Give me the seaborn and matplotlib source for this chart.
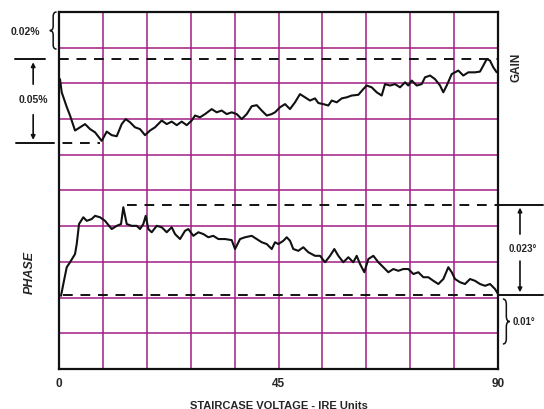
import numpy as np
import matplotlib
matplotlib.use('Agg')
import matplotlib.pyplot as plt
from matplotlib.path import Path
from matplotlib.patches import PathPatch
import seaborn as sns

# Traça de GAIN (x en unitats IRE, y en divisions de la retícula)
gain_x = [0.2, 0.55, 1.58, 2.26, 3.28, 4.31, 5.33, 6.36, 7.38, 8.75, 9.78, 10.8,
          11.83, 12.85, 13.67, 14.56, 15.58, 16.6, 17.63, 18.66, 19.68, 21.05,
          22.08, 23.1, 24.13, 25.15, 26.18, 27.2, 27.88, 28.9, 29.93, 31.3, 32.33,
          33.35, 34.38, 35.4, 36.43, 37.45, 38.48, 39.5, 40.53, 41.55, 42.58, 43.6,
          44.28, 45.3, 46.33, 47.35, 48.38, 49.4, 50.43, 51.45, 52.48, 53.16, 54.18,
          55.21, 55.91, 56.93, 57.96, 58.98, 60.0, 61.36, 62.38, 63.08, 64.1, 65.13,
          66.15, 66.83, 67.86, 68.88, 69.91, 70.93, 71.61, 72.3, 73.33, 74.35, 75.03,
          76.06, 77.08, 78.11, 78.78, 79.48, 80.5, 81.86, 82.88, 83.91, 85.28, 86.3,
          86.98, 87.68, 88.35, 89.03, 89.73]
gain_y = [8.12, 7.75, 7.34, 7.10, 6.68, 6.77, 6.86, 6.72, 6.63, 6.39, 6.65, 6.55,
          6.52, 6.86, 7.00, 6.91, 6.77, 6.72, 6.55, 6.68, 6.77, 6.96, 6.86, 6.93,
          6.83, 6.93, 6.83, 6.96, 7.10, 7.05, 7.14, 7.28, 7.19, 7.24, 7.14, 7.19,
          7.14, 7.00, 7.14, 7.36, 7.39, 7.24, 7.10, 7.14,
          7.19, 7.33, 7.42, 7.28, 7.47, 7.70, 7.61, 7.52, 7.58, 7.45, 7.42, 7.38,
          7.52, 7.47, 7.58, 7.61, 7.66, 7.68, 7.84, 7.94, 7.89, 7.75, 7.66, 7.98,
          7.94, 7.98, 7.89, 8.03, 7.94, 8.08, 7.94, 7.98, 8.17, 8.22, 8.12, 7.94,
          7.75, 7.94, 8.26, 8.36, 8.22, 8.31, 8.31, 8.33, 8.50, 8.68, 8.64, 8.45,
          8.31]

# Traça de PHASE
phase_x = [0.41, 0.88, 1.58, 2.26, 3.28, 3.63, 4.10, 4.98, 5.68, 6.70, 7.38, 8.41,
           9.43, 10.8, 11.83, 12.71, 13.18, 13.88, 14.9, 15.93, 16.61, 17.28, 17.77,
           18.31, 19.0, 20.03, 21.05, 22.08, 23.1, 23.78, 24.81, 25.83, 26.51, 27.53,
           28.56, 29.58, 30.61, 31.63, 32.66, 34.03, 35.4, 36.08, 37.11, 38.13, 39.51,
           40.53, 41.56, 42.58, 43.61,
           44.28, 44.96, 45.98, 46.68, 47.36, 48.03, 49.06, 50.08, 51.11, 52.48,
           53.51, 54.53, 55.56, 56.44, 57.26, 58.28, 59.31, 60.33, 61.03, 61.71,
           62.59, 63.41, 64.44, 65.46, 66.49, 67.51, 68.54, 69.56, 70.59, 71.61,
           72.64, 73.66, 74.69, 75.71, 76.74, 77.76, 78.79, 79.81, 80.51, 81.18,
           82.21, 83.23, 84.26, 85.28, 86.31, 87.33, 88.36, 89.38, 90.0]
phase_y = [2.05, 2.38, 2.85, 2.99, 3.22, 3.50, 4.06, 4.25, 4.15, 4.20, 4.29, 4.25,
           4.15, 3.92, 4.01, 4.06, 4.53, 4.06, 4.01, 4.01, 3.92, 4.06, 4.29, 3.92,
           3.83, 4.01, 3.97, 3.83, 3.97, 3.78, 3.64, 3.87, 3.92, 3.73, 3.83, 3.78,
           3.69, 3.73, 3.64, 3.64, 3.61, 3.36, 3.64, 3.69, 3.73, 3.64, 3.55, 3.50,
           3.36,
           3.55, 3.50, 3.59, 3.69, 3.59, 3.36, 3.31, 3.41, 3.27, 3.17, 3.17, 2.99,
           3.17, 3.36, 3.17, 2.99, 3.13, 2.99, 3.17, 2.94, 2.71, 3.08, 3.17, 2.99,
           2.85, 2.71, 2.80, 2.75, 2.80, 2.80, 2.66, 2.71, 2.57, 2.57, 2.47, 2.38,
           2.52, 2.85, 2.71, 2.52, 2.43, 2.38, 2.52, 2.47, 2.38, 2.33, 2.38, 2.24,
           2.10]

# Nivells de referència (línies discontínues)
gain_top, gain_bottom = 8.67, 6.34
phase_top, phase_bottom = 4.60, 2.07

x_ticks = [0, 45, 90]
x_label = 'STAIRCASE VOLTAGE - IRE Units'

sns.set_style('white')
plt.rcParams['font.family'] = ['Liberation Sans', 'DejaVu Sans']

GRID = '#A01E84'
INK = '#111111'

fig = plt.figure(figsize=(5.44, 4.10), dpi=100)
ax = fig.add_axes([0.1085, 0.0976, 0.807, 0.8707])

sns.lineplot(x=gain_x, y=gain_y, ax=ax, color=INK, lw=1.5, sort=False, estimator=None)
sns.lineplot(x=phase_x, y=phase_y, ax=ax, color=INK, lw=1.5, sort=False, estimator=None)

ax.set_xlim(0, 90)
ax.set_ylim(0, 10)
ax.set_xticks(x_ticks)
ax.set_xticks(np.arange(0, 91, 9), minor=True)
ax.set_yticks(np.arange(0, 11, 1))
ax.set_yticklabels([])
ax.grid(True, which='both', color=GRID, lw=1.1)
ax.set_axisbelow(True)
ax.tick_params(axis='both', which='both', length=0, labelsize=8.5, pad=6)
for lbl in ax.get_xticklabels():
    lbl.set_fontweight('bold')
ax.set_xlabel(x_label, fontsize=8, fontweight='bold', labelpad=8)
for s in ax.spines.values():
    s.set_color(INK)
    s.set_linewidth(1.6)

dash = dict(color=INK, lw=1.4, ls=(0, (5, 4)))
ax.plot([0, 89.8], [gain_top, gain_top], **dash)
ax.plot([-2.9, 8.4], [gain_bottom, gain_bottom], clip_on=False, **dash)
ax.plot([13.9, 90], [phase_top, phase_top], **dash)
ax.plot([0.8, 90], [phase_bottom, phase_bottom], **dash)

solid = dict(color=INK, lw=1.4, clip_on=False)
# cotes de l'esquerra (0.05%)
ax.plot([-9.0, -2.9], [gain_top, gain_top], **solid)
ax.plot([-8.8, -2.9], [gain_bottom, gain_bottom], **solid)
arr = dict(arrowstyle='-|>', color=INK, lw=1.2, mutation_scale=6)
ax.annotate('', xy=(-5.3, gain_top), xytext=(-5.3, 7.9), arrowprops=arr, annotation_clip=False)
ax.annotate('', xy=(-5.3, gain_bottom), xytext=(-5.3, 7.2), arrowprops=arr, annotation_clip=False)
ax.text(-5.3, 7.56, '0.05%', ha='center', va='center', fontsize=7.5, fontweight='bold')

# cotes de la dreta (0.023°)
ax.plot([90, 99.3], [phase_top, phase_top], **solid)
ax.plot([90, 99.3], [phase_bottom, phase_bottom], **solid)
ax.annotate('', xy=(94.5, phase_top), xytext=(94.5, 3.7), arrowprops=arr, annotation_clip=False)
ax.annotate('', xy=(94.5, phase_bottom), xytext=(94.5, 3.1), arrowprops=arr, annotation_clip=False)
ax.text(95.0, 3.39, '0.023°', ha='center', va='center', fontsize=7, fontweight='bold')


def brace(x0, y0, y1, w, d):
    xm = x0 + d * w / 2
    xt = x0 + d * w
    ym = (y0 + y1) / 2
    h = (y1 - y0) * 0.12
    verts = [(x0, y1), (xm, y1), (xm, y1 - h), (xm, ym + h), (xm, ym), (xt, ym),
             (xm, ym), (xm, ym - h), (xm, y0 + h), (xm, y0), (x0, y0)]
    codes = [Path.MOVETO, Path.CURVE3, Path.CURVE3, Path.LINETO, Path.CURVE3, Path.CURVE3,
             Path.CURVE3, Path.CURVE3, Path.LINETO, Path.CURVE3, Path.CURVE3]
    ax.add_patch(PathPatch(Path(verts, codes), fill=False, ec=INK, lw=1.1, clip_on=False))


brace(-0.5, 8.96, 10.0, 1.4, -1)
ax.text(-6.9, 9.47, '0.02%', ha='center', va='center', fontsize=7.5, fontweight='bold')
brace(91.0, 0.70, 1.96, 1.4, 1)
ax.text(93.0, 1.34, '0.01°', ha='left', va='center', fontsize=7, fontweight='bold')

ax.text(93.7, 8.47, 'GAIN', rotation=90, ha='center', va='center', fontsize=8.5, fontweight='bold')
ax.text(-5.9, 2.72, 'PHASE', rotation=90, ha='center', va='center', fontsize=9,
        fontweight='bold', fontstyle='italic')

fig.savefig('out.png', dpi=100)
